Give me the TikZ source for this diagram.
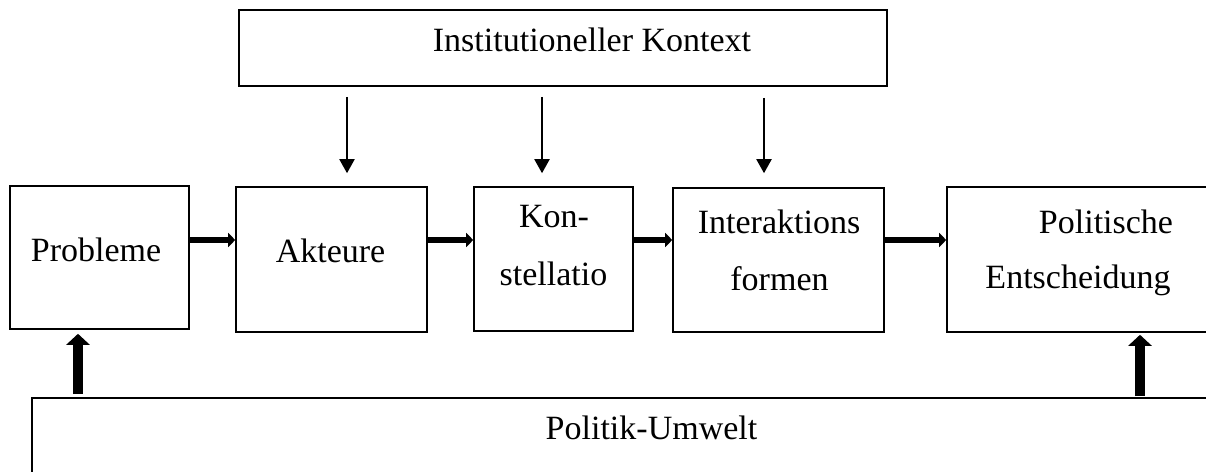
\documentclass[tikz,border=0pt]{standalone}
\usepackage{fontspec}
\setmainfont{Liberation Serif}
\usetikzlibrary{arrows.meta}
\begin{document}
\begin{tikzpicture}[x=1pt,y=-1pt,
  box/.style={draw=black, line width=1.6pt, rectangle, inner sep=0pt, fill=white},
  lbl/.style={anchor=base, inner sep=0pt, font=\fontsize{34}{40}\selectfont},
  thinarrow/.style={line width=2pt, -{Triangle[length=14pt,width=15pt]}},
  fatarrow/.style={line width=6.5pt, -{Triangle[length=7pt,width=14pt]}},
  uparrow/.style={line width=10pt, -{Triangle[length=11pt,width=23pt]}}
]
\useasboundingbox (0,0) rectangle (1206,471);
\clip (0,0) rectangle (1206,471);
\fill[white] (0,0) rectangle (1206,471);

% boxes
\node[box, minimum width=648pt, minimum height=76pt] (top) at (563,48) {};
\node[box, minimum width=179pt, minimum height=143pt] (prob) at (99.5,257.5) {};
\node[box, minimum width=191pt, minimum height=145pt] (akt) at (331.5,259.5) {};
\node[box, minimum width=159pt, minimum height=144pt] (kon) at (553.5,259) {};
\node[box, minimum width=211pt, minimum height=144pt] (int) at (778.5,260) {};
\node[box, minimum width=283pt, minimum height=145pt] (pol) at (1088.5,259.5) {};
\node[box, minimum width=1208pt, minimum height=102pt] (umw) at (636,449) {};

% labels
\node[lbl] (tTop) at (592,51) {Institutioneller Kontext};
\node[lbl] (tProb) at (96,261) {Probleme};
\node[lbl] (tAkt) at (330.5,262) {Akteure};
\node[lbl] (tKon1) at (554,227) {Kon-};
\node[lbl] (tKon2) at (553.5,285) {stellatio};
\node[lbl] (tInt1) at (779,233) {Interaktions};
\node[lbl] (tInt2) at (779.5,290) {formen};
\node[lbl] (tPol1) at (1106,233) {Politische};
\node[lbl] (tPol2) at (1078,288) {Entscheidung};
\node[lbl] (tUmw) at (651.5,439) {Politik-Umwelt};

% coordinates for connector positions
\coordinate (d1) at (347,0);
\coordinate (d2) at (542,0);
\coordinate (d3) at (764,0);
\coordinate (hy) at (0,240);
\coordinate (u1) at (78,0);
\coordinate (u2) at (1140,0);

% thin down arrows
\draw[thinarrow, shorten <=10pt, shorten >=13pt] (top.south -| d1) -- (akt.north -| d1);
\draw[thinarrow, shorten <=10pt, shorten >=13pt] (top.south -| d2) -- (kon.north -| d2);
\draw[thinarrow, shorten <=11pt, shorten >=14pt] (top.south -| d3) -- (int.north -| d3);

% thick horizontal arrows
\draw[fatarrow] (prob.east |- hy) -- (akt.west |- hy);
\draw[fatarrow] (akt.east |- hy) -- (kon.west |- hy);
\draw[fatarrow] (kon.east |- hy) -- (int.west |- hy);
\draw[fatarrow] (int.east |- hy) -- (pol.west |- hy);

% up arrows
\draw[uparrow, shorten <=3pt, shorten >=4pt] (umw.north -| u1) -- (prob.south -| u1);
\draw[uparrow, shorten <=1pt, shorten >=2pt] (umw.north -| u2) -- (pol.south -| u2);
\end{tikzpicture}
\end{document}
